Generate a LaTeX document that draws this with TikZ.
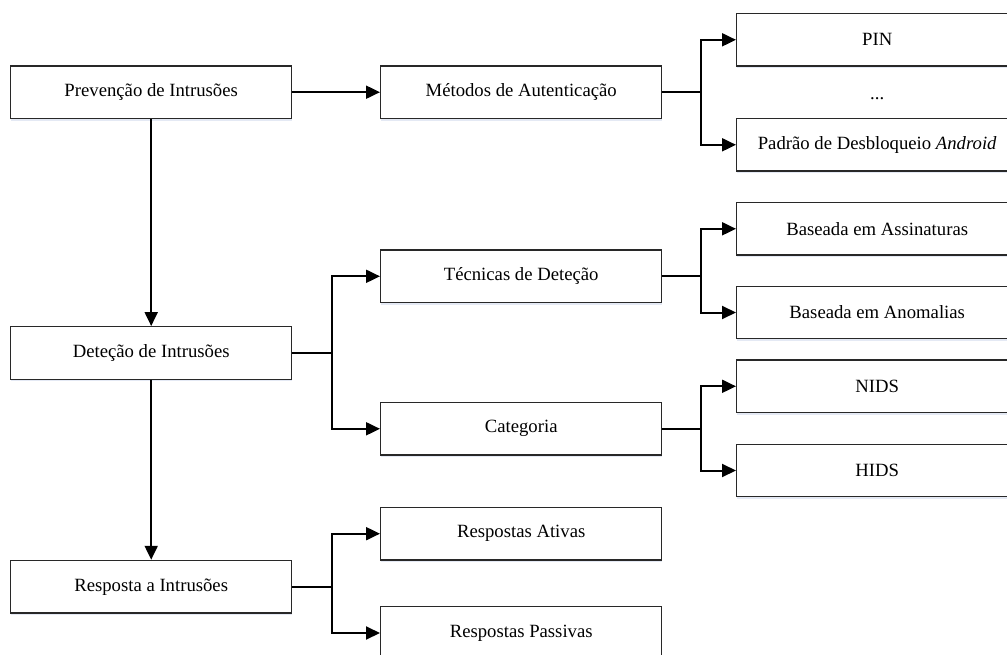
\documentclass[tikz,border=0pt]{standalone}
\usepackage{fontspec}
\setmainfont{Liberation Serif}
\usetikzlibrary{arrows.meta,shadows}

\definecolor{boxline}{RGB}{40,40,40}
\definecolor{boxshade}{RGB}{228,233,244}

\tikzset{
  box/.style={draw=boxline, line width=1.4pt, fill=white, rectangle,
    minimum width=281pt, minimum height=52.5pt, inner sep=0pt,
    font=\fontsize{18.7}{22}\selectfont,
    drop shadow={shadow xshift=0pt, shadow yshift=-2.2pt, fill=boxshade, opacity=1}},
  link/.style={draw=black, line width=2pt},
  arr/.style={link, -{Triangle[length=14pt, width=13pt]}},
}

\begin{document}
\begin{tikzpicture}[x=1pt, y=-1pt]
  \useasboundingbox (0,0) rectangle (1007,655);

  % first column: the three phases
  \node[box] (prev) at (151.2, 92.2)  {Prevenção de Intrusões};
  \node[box] (det)  at (151.2, 353.0) {Deteção de Intrusões};
  \node[box] (resp) at (151.2, 586.7) {Resposta a Intrusões};

  % second column
  \node[box] (met)  at (521.2, 92.2)  {Métodos de Autenticação};
  \node[box] (tec)  at (521.2, 276.3) {Técnicas de Deteção};
  \node[box] (cat)  at (521.2, 428.8) {Categoria};
  \node[box] (ativ) at (521.2, 533.7) {Respostas Ativas};
  \node[box] (pass) at (521.2, 633.0) {Respostas Passivas};

  % third column
  \node[box] (pin)  at (877.2, 39.8)  {PIN};
  \node[inner sep=0pt] (dots) at (877.2, 98.5) {\fontsize{18.7}{22}\selectfont ...};
  \node[box] (pad)  at (877.2, 144.8) {Padrão de Desbloqueio \textit{Android}};
  \node[box] (ass)  at (877.2, 228.8) {Baseada em Assinaturas};
  \node[box] (ano)  at (877.2, 312.5) {Baseada em Anomalias};
  \node[box] (nids) at (877.2, 386.3) {NIDS};
  \node[box] (hids) at (877.2, 470.5) {HIDS};

  % branch points of the fork connectors
  \coordinate (bmet) at (701.0, 92.2);
  \coordinate (btec) at (701.0, 276.3);
  \coordinate (bcat) at (701.0, 428.8);
  \coordinate (bdet) at (331.7, 353.0);
  \coordinate (bresp) at (331.7, 586.7);

  % main flow
  \draw[arr] (prev.east) -- (met.west);
  \draw[arr] (prev.south) -- (det.north);
  \draw[arr] (det.south) -- (resp.north);

  % authentication methods
  \draw[link] (met.east) -- (bmet);
  \draw[arr] (bmet) |- (pin.west);
  \draw[arr] (bmet) |- (pad.west);

  % detection
  \draw[link] (det.east) -- (bdet);
  \draw[arr] (bdet) |- (tec.west);
  \draw[arr] (bdet) |- (cat.west);

  \draw[link] (tec.east) -- (btec);
  \draw[arr] (btec) |- (ass.west);
  \draw[arr] (btec) |- (ano.west);

  \draw[link] (cat.east) -- (bcat);
  \draw[arr] (bcat) |- (nids.west);
  \draw[arr] (bcat) |- (hids.west);

  % response
  \draw[link] (resp.east) -- (bresp);
  \draw[arr] (bresp) |- (ativ.west);
  \draw[arr] (bresp) |- (pass.west);
\end{tikzpicture}
\end{document}
